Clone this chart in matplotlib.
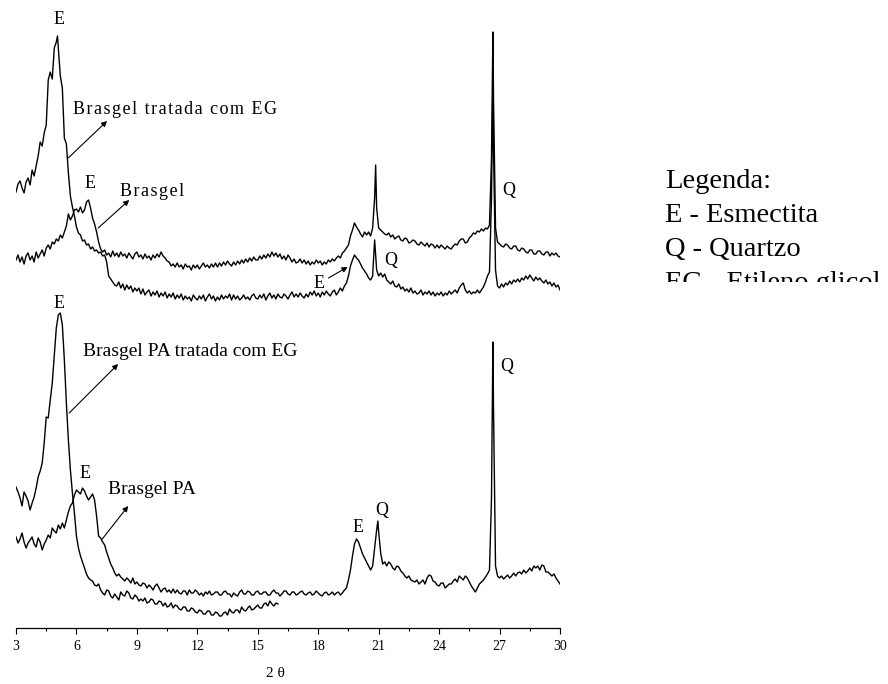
import numpy as np
import matplotlib
matplotlib.use('Agg')
import matplotlib.pyplot as plt
from matplotlib.ticker import MultipleLocator
from matplotlib.transforms import Bbox, TransformedBbox

# 2 theta grid (deg) and intensities (arbitrary units, stacked patterns)
two_theta = np.round(np.arange(3.0, 30.001, 0.1), 1)
two_theta_pa_eg = np.round(np.arange(3.0, 16.001, 0.1), 1)

# Brasgel tratada com EG
brasgel_eg = [
    436, 444, 447, 440, 435, 446, 450, 443, 458, 452,
    462, 472, 486, 482, 495, 503, 548, 556, 549, 580,
    586, 580, 552, 540, 490, 484, 455, 432, 421, 412,
    401, 395, 393, 387, 388, 383, 384, 379, 381, 377,
    378, 375, 376, 372, 373, 366, 352, 349, 346, 343,
    342, 346, 340, 344, 338, 343, 339, 342, 336, 340,
    337, 340, 334, 339, 333, 336, 338, 332, 336, 333,
    337, 331, 335, 332, 336, 330, 334, 331, 335, 329,
    333, 330, 334, 328, 332, 329, 331, 327, 333, 330,
    328, 332, 329, 333, 327, 331, 334, 329, 332, 327,
    331, 328, 333, 329, 332, 330, 334, 328, 333, 329,
    332, 328, 330, 333, 329, 331, 328, 332, 334, 330,
    329, 333, 330, 334, 328, 332, 335, 330, 333, 329,
    334, 331, 330, 334, 332, 329, 333, 336, 331, 334,
    331, 335, 332, 330, 334, 331, 336, 333, 337, 332,
    335, 331, 336, 333, 337, 334, 332, 336, 338, 333,
    336, 340, 337, 342, 345, 352, 362, 368, 373, 370,
    368, 364, 360, 357, 354, 350, 348, 352, 388, 358,
    352, 355, 351, 354, 348, 346, 344, 347, 342, 341,
    344, 339, 341, 337, 339, 336, 340, 335, 337, 334,
    335, 338, 333, 336, 334, 337, 333, 336, 332, 335,
    333, 336, 332, 335, 333, 337, 334, 336, 338, 335,
    340, 343, 345, 338, 335, 337, 334, 336, 335, 338,
    335, 338, 341, 346, 352, 356, 430, 480, 358, 342,
    340, 344, 341, 345, 343, 347, 344, 348, 346, 349,
    346, 350, 348, 352, 349, 353, 350, 347, 351, 348,
    350, 347, 345, 348, 344, 346, 342, 345, 341, 343,
    338]
brasgel_eg_px = [5.06, 26.67]
brasgel_eg_py = [592, 548]

# Brasgel
brasgel = [
    368, 373, 366, 371, 364, 372, 375, 368, 372, 366,
    376, 370, 374, 378, 372, 380, 383, 379, 386, 384,
    389, 387, 393, 390, 396, 402, 414, 408, 412, 418,
    419, 416, 421, 415, 418, 426, 428, 420, 410, 404,
    396, 386, 379, 376, 378, 373, 375, 371, 377, 372,
    375, 371, 376, 372, 374, 370, 375, 372, 369, 374,
    376, 371, 373, 369, 374, 370, 372, 368, 373, 370,
    374, 371, 376, 372, 370, 367, 366, 362, 364, 361,
    365, 361, 363, 359, 364, 361, 362, 358, 363, 360,
    363, 359, 362, 365, 361, 363, 360, 364, 361, 365,
    361, 365, 362, 366, 363, 367, 364, 362, 366, 363,
    367, 364, 368, 365, 369, 366, 370, 367, 371, 368,
    368, 372, 369, 373, 370, 374, 371, 376, 372, 375,
    371, 374, 369, 372, 368, 373, 370, 366, 369, 365,
    366, 369, 365, 368, 364, 367, 363, 366, 364, 368,
    365, 367, 363, 366, 364, 368, 366, 369, 367, 370,
    372, 370, 375, 377, 380, 383, 392, 398, 405, 401,
    398, 394, 391, 396, 393, 396, 392, 400, 430, 420,
    400, 398, 396, 394, 393, 395, 391, 393, 389, 391,
    392, 388, 387, 390, 389, 385, 386, 388, 387, 384,
    383, 386, 384, 382, 385, 381, 384, 383, 380, 383,
    380, 383, 381, 379, 382, 380, 379, 382, 384, 383,
    387, 389, 389, 385, 386, 390, 392, 395, 394, 397,
    396, 399, 397, 400, 399, 403, 470, 530, 400, 386,
    384, 382, 381, 384, 383, 380, 379, 382, 382, 378,
    377, 380, 379, 376, 375, 378, 378, 374, 374, 377,
    377, 374, 373, 376, 376, 372, 375, 373, 375, 372,
    371]
brasgel_px = [20.85, 26.67]
brasgel_py = [463, 596]

# Brasgel PA tratada com EG (3-16 deg only)
brasgel_pa_eg = [
    141, 136, 130, 122, 136, 132, 127, 118, 125, 131,
    140, 151, 157, 165, 185, 211, 210, 228, 245, 272,
    300, 313, 315, 303, 268, 225, 188, 158, 135, 115,
    92, 80, 72, 66, 60, 54, 50, 48, 47, 43,
    42, 44, 38, 35, 33, 38, 37, 32, 30, 34,
    31, 28, 36, 33, 32, 37, 35, 30, 29, 33,
    31, 27, 29, 27, 30, 25, 26, 29, 28, 24,
    24, 27, 26, 22, 25, 21, 22, 25, 20, 23,
    22, 19, 18, 21, 21, 17, 17, 20, 19, 16,
    15, 18, 17, 14, 14, 17, 17, 13, 13, 16,
    15, 12, 12, 15, 16, 13, 19, 16, 15, 18,
    18, 15, 21, 18, 17, 20, 22, 18, 19, 21,
    23, 20, 20, 24, 25, 22, 27, 24, 22, 25,
    24]

# Brasgel PA
brasgel_pa = [
    91, 85, 89, 95, 86, 80, 85, 88, 91, 84,
    81, 90, 86, 78, 84, 88, 93, 90, 100, 97,
    95, 103, 99, 105, 100, 108, 116, 122, 125, 133,
    138, 136, 134, 140, 137, 132, 128, 131, 134, 128,
    112, 92, 90, 86, 83, 76, 70, 64, 60, 55,
    52, 54, 51, 49, 47, 50, 48, 45, 50, 44,
    46, 43, 42, 45, 44, 40, 43, 41, 38, 42,
    44, 40, 36, 39, 40, 36, 38, 35, 39, 35,
    38, 35, 34, 37, 37, 33, 38, 35, 35, 38,
    36, 33, 35, 32, 36, 34, 37, 33, 34, 36,
    36, 33, 33, 36, 37, 34, 34, 31, 35, 33,
    32, 36, 38, 34, 34, 37, 36, 33, 33, 36,
    37, 34, 34, 36, 36, 33, 33, 36, 38, 35,
    35, 32, 34, 37, 37, 34, 33, 36, 36, 33,
    34, 36, 37, 34, 33, 35, 36, 33, 34, 37,
    35, 33, 32, 35, 36, 33, 34, 36, 33, 35,
    36, 33, 35, 38, 40, 48, 58, 72, 84, 89,
    86, 80, 74, 70, 66, 62, 58, 62, 80, 98,
    96, 75, 64, 66, 62, 66, 64, 60, 58, 62,
    61, 57, 55, 52, 50, 52, 48, 47, 46, 48,
    44, 46, 48, 44, 50, 53, 52, 47, 46, 43,
    42, 45, 45, 40, 42, 44, 44, 47, 49, 46,
    52, 50, 48, 52, 50, 46, 42, 39, 36, 40,
    44, 46, 48, 51, 54, 58, 130, 220, 62, 52,
    50, 52, 49, 51, 53, 50, 52, 55, 52, 55,
    56, 54, 58, 55, 57, 60, 57, 62, 60, 62,
    58, 63, 62, 56, 56, 54, 52, 54, 50, 47,
    44]
brasgel_pa_px = [20.96, 26.67]
brasgel_pa_py = [107, 286]

xticks = [3, 6, 9, 12, 15, 18, 21, 24, 27, 30]
legend_lines = ['Legenda:', 'E - Esmectita', 'Q - Quartzo', 'EG - Etileno glicol']


def join(x, y, xp, yp):
    xx = np.concatenate([x, xp])
    yy = np.concatenate([y, yp])
    order = np.argsort(xx, kind='stable')
    return xx[order], yy[order]


def spaced(s):
    # the upper captions are printed with a little letter spacing
    return '\u200a'.join(s)


plt.rcParams['font.family'] = ['Liberation Serif', 'DejaVu Sans']
fig = plt.figure(figsize=(8.88, 6.84), dpi=100)
ax = fig.add_axes([16 / 888, 1 - 628 / 684, 544 / 888, 628 / 684])

for x, y, xp, yp in [(two_theta, brasgel_eg, brasgel_eg_px, brasgel_eg_py),
                     (two_theta, brasgel, brasgel_px, brasgel_py),
                     (two_theta_pa_eg, brasgel_pa_eg, [], []),
                     (two_theta, brasgel_pa, brasgel_pa_px, brasgel_pa_py)]:
    xx, yy = join(x, y, xp, yp)
    ax.plot(xx, yy, color='black', linewidth=1.0)

ax.set_xlim(3, 30)
ax.set_ylim(0, 628)
for side in ['left', 'right', 'top']:
    ax.spines[side].set_visible(False)
ax.spines['bottom'].set_linewidth(0.9)
ax.set_yticks([])
ax.set_xticks(xticks)
ax.xaxis.set_minor_locator(MultipleLocator(1.5))
ax.tick_params(axis='x', which='major', direction='out', length=4.5, width=0.8,
               labelsize=10, pad=4.5)
ax.tick_params(axis='x', which='minor', direction='out', length=2.5, width=0.8)
ax.set_xlabel('2 θ', fontsize=11)
ax.xaxis.set_label_coords(0.476, -0.072)
ax.xaxis.label.set_va('center')

# peak letters
for s, x, y in [('E', 5.14, 609), ('E', 6.68, 445), ('Q', 27.47, 437),
                ('E', 18.02, 345), ('Q', 21.6, 368),
                ('E', 5.14, 324), ('E', 6.43, 155), ('E', 19.96, 101),
                ('Q', 21.15, 118), ('Q', 27.37, 261)]:
    ax.text(x, y, s, fontsize=13, ha='center', va='center')

# sample names
ax.text(5.83, 518, spaced('Brasgel tratada com EG'), fontsize=13, ha='left', va='center')
ax.text(8.17, 437, spaced('Brasgel'), fontsize=13, ha='left', va='center')
ax.text(6.33, 276, 'Brasgel PA tratada com EG', fontsize=14, ha='left', va='center')
ax.text(7.57, 138, 'Brasgel PA', fontsize=14, ha='left', va='center')

arrow = dict(arrowstyle='-|>', color='black', lw=0.8, mutation_scale=8,
             shrinkA=0, shrinkB=0)
for tail, head in [((5.59, 470), (7.52, 507)), ((7.08, 400), (8.62, 428)),
                   ((18.51, 350), (19.46, 361)), ((5.64, 215), (8.07, 264)),
                   ((7.28, 89), (8.57, 122))]:
    ax.annotate('', xy=head, xytext=tail, arrowprops=arrow)

# legend block, cut off at the bottom like the original
clip = TransformedBbox(Bbox([[0, 1 - 282 / 684], [1, 1]]), fig.transFigure)
for i, s in enumerate(legend_lines):
    t = fig.text(665 / 888, 1 - (188 + 34 * i) / 684, s, fontsize=20.5, va='baseline')
    t.set_clip_box(clip)
    t.set_clip_on(True)

fig.savefig('out.png', dpi=100)
